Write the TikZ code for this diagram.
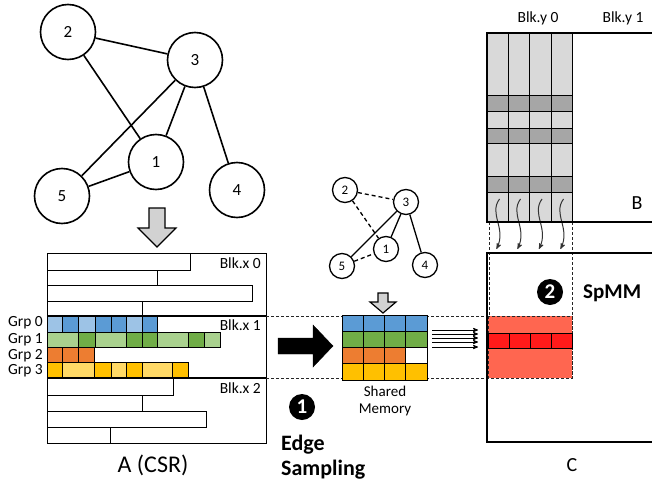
\documentclass[tikz,border=0pt]{standalone}
\usepackage{fontspec}
\setmainfont{Carlito}
\usetikzlibrary{arrows}
\definecolor{bluel}{HTML}{9DC3E6}
\definecolor{blued}{HTML}{5B9BD5}
\definecolor{greenl}{HTML}{A9D18E}
\definecolor{greend}{HTML}{70AD47}
\definecolor{orng}{HTML}{ED7D31}
\definecolor{yell}{HTML}{FFD966}
\definecolor{yeld}{HTML}{FFC000}
\definecolor{grayl}{HTML}{D9D9D9}
\definecolor{grayd}{HTML}{A6A6A6}
\definecolor{redl}{HTML}{FF6650}
\definecolor{redd}{HTML}{FF1A1A}

\begin{document}
\begin{tikzpicture}[x=1pt,y=-1pt,
  vtx/.style={circle,draw,line width=1.6pt,minimum size=55pt,inner sep=0,font=\fontsize{17}{17}\selectfont},
  svtx/.style={circle,draw,line width=1.3pt,minimum size=25pt,inner sep=0,font=\fontsize{13}{13}\selectfont},
  edge/.style={line width=1.6pt},
  sedge/.style={line width=1.3pt},
  cell/.style={draw=black,line width=.8pt},
  lbl/.style={font=\fontsize{15.5}{15.5}\selectfont,inner sep=0},
  bignum/.style={circle,fill=black,text=white,minimum size=26pt,inner sep=0,font=\bfseries\fontsize{21}{21}\selectfont},
  guide/.style={dash pattern=on 3pt off 2pt,line width=.8pt,black!85},
  blockarrow/.style={draw,line width=1.2pt,fill=gray!35}]
\useasboundingbox (0,0) rectangle (652,487);

% input graph
\node[vtx] (v1) at (156,162) {1};
\node[vtx] (v2) at (68,32) {2};
\node[vtx] (v3) at (195,60) {3};
\node[vtx] (v4) at (237,190) {4};
\node[vtx] (v5) at (62,196) {5};
\draw[edge] (v2) -- (v3);
\draw[edge] (v2) -- (v1);
\draw[edge] (v3) -- (v5);
\draw[edge] (v3) -- (v1);
\draw[edge] (v3) -- (v4);
\draw[edge] (v5) -- (v1);
\draw[blockarrow] (149,208) -- (165,208) -- (165,228) -- (176,228) -- (157,247) -- (138,228) -- (149,228) -- cycle;

% A (CSR)
\foreach \t/\b/\e in {253/270/190,270/285/157,285/301/252,301/316/142,378/395/173,395/411/142,411/427/206,427/443/110}
  \draw[line width=.9pt] (47,\t) rectangle (\e,\b);
\foreach \a/\b/\c in {47/62/bluel,62/78/blued,78/95/bluel,95/111/blued,111/126/blued,126/142/bluel,142/157/blued}
  \draw[cell,fill=\c] (\a,316) rectangle (\b,332);
\foreach \a/\b/\c in {47/78/greenl,78/95/greend,95/126/greenl,126/142/greend,142/157/greend,157/188/greenl,188/204/greend,204/220/greenl}
  \draw[cell,fill=\c] (\a,332) rectangle (\b,347);
\foreach \a/\b in {47/62,62/78,78/94}
  \draw[cell,fill=orng] (\a,347) rectangle (\b,362);
\foreach \a/\b/\c in {47/62/yeld,62/94/yell,94/111/yeld,111/126/yell,126/142/yeld,142/172/yell,172/188/yeld}
  \draw[cell,fill=\c] (\a,362) rectangle (\b,378);
\draw[line width=1pt] (47,253) rectangle (266,443);
\draw[line width=2pt] (47,316) -- (266,316);
\draw[line width=2pt] (47,378) -- (266,378);
\node[lbl,anchor=east] (blkx0) at (261,263) {Blk.x 0};
\node[lbl,anchor=east] (blkx1) at (261,325) {Blk.x 1};
\node[lbl,anchor=east] (blkx2) at (261,388) {Blk.x 2};
\foreach \g/\y in {0/323,1/340,2/356,3/371}
  \node[lbl,anchor=east] (grp\g) at (43,\y) {Grp \g};
\node[font=\fontsize{24}{24}\selectfont] (labA) at (153,465) {A (CSR)};

% guides
\draw[guide] (266,316) -- (572,316);
\draw[guide] (266,378) -- (572,378);
\draw[guide] (489,222) -- (489,378);
\draw[guide] (572,222) -- (572,378);

% edge sampling
\draw[fill=black] (278,338) -- (313,338) -- (313,325) -- (333,346) -- (313,367) -- (313,354) -- (278,354) -- cycle;
\node[bignum] (step1) at (302,407) {1};
\node[anchor=west,inner sep=0,font=\bfseries\fontsize{22}{22}\selectfont] (es1) at (281,445) {Edge};
\node[anchor=west,inner sep=0,font=\bfseries\fontsize{22}{22}\selectfont] (es2) at (281,470) {Sampling};

% sampled graph
\node[svtx] (s1) at (386,249) {1};
\node[svtx] (s2) at (345,190) {2};
\node[svtx] (s3) at (406,202) {3};
\node[svtx] (s4) at (425,265) {4};
\node[svtx] (s5) at (342,266) {5};
\draw[sedge,dash pattern=on 4pt off 3pt] (s2) -- (s3);
\draw[sedge,dash pattern=on 4pt off 3pt] (s2) -- (s1);
\draw[sedge,dash pattern=on 4pt off 3pt] (s5) -- (s1);
\draw[sedge] (s3) -- (s5);
\draw[sedge] (s3) -- (s1);
\draw[sedge] (s3) -- (s4);
\draw[blockarrow] (378,293) -- (388,293) -- (388,302) -- (396,302) -- (383,313) -- (370,302) -- (378,302) -- cycle;

% shared memory
\foreach \i in {0,1,2,3} {
  \draw[cell,fill=blued] (342+21.25*\i,315) rectangle (363.25+21.25*\i,331.25);
  \draw[cell,fill=greend] (342+21.25*\i,331.25) rectangle (363.25+21.25*\i,347.5);
  \draw[cell,fill=yeld] (342+21.25*\i,363.75) rectangle (363.25+21.25*\i,380);
}
\foreach \i in {0,1,2}
  \draw[cell,fill=orng] (342+21.25*\i,347.5) rectangle (363.25+21.25*\i,363.75);
\draw[cell,fill=white] (405.75,347.5) rectangle (427,363.75);
\node[font=\fontsize{15}{17}\selectfont,align=center,inner sep=0] (shm) at (385,401) {Shared\\Memory};
\foreach \y in {330,334,338,342,347}
  \draw[->,>=stealth',line width=.8pt] (432,\y) -- (478,\y);

% B
\foreach \a/\b in {487/508,508/529,529/551,551/572} {
  \draw[cell,fill=grayl] (\a,33) rectangle (\b,222);
  \foreach \t/\u in {95/111,128/143,176/192}
    \draw[cell,fill=grayd] (\a,\t) rectangle (\b,\u);
}
\foreach \x in {497.5,518.5,540,561.5}
  \draw[->,>=stealth',line width=1pt,black!80] (\x+2,199) .. controls (\x-9,214) and (\x+9,228) .. (\x-1,249);
\draw[line width=2.2pt] (653,33) -- (487,33) -- (487,222) -- (653,222);
\node[lbl] (blky0) at (538,18) {Blk.y 0};
\node[lbl] (blky1) at (623,18) {Blk.y 1};
\node[font=\fontsize{20}{20}\selectfont] (labB) at (637,203) {B};

% C
\fill[redl] (488,316) rectangle (572,378);
\draw[guide] (488,316) rectangle (572,378);
\foreach \a/\b in {488/509,509/530,530/551,551/572}
  \draw[cell,fill=redd] (\a,333) rectangle (\b,348);
\draw[line width=2.2pt] (653,253) -- (487,253) -- (487,442) -- (653,442);
\node[bignum] (step2) at (550,292) {2};
\node[anchor=west,inner sep=0,font=\bfseries\fontsize{21}{21}\selectfont] (spmm) at (583,293) {SpMM};
\node[font=\fontsize{20}{20}\selectfont] (labC) at (572,465) {C};
\end{tikzpicture}
\end{document}
